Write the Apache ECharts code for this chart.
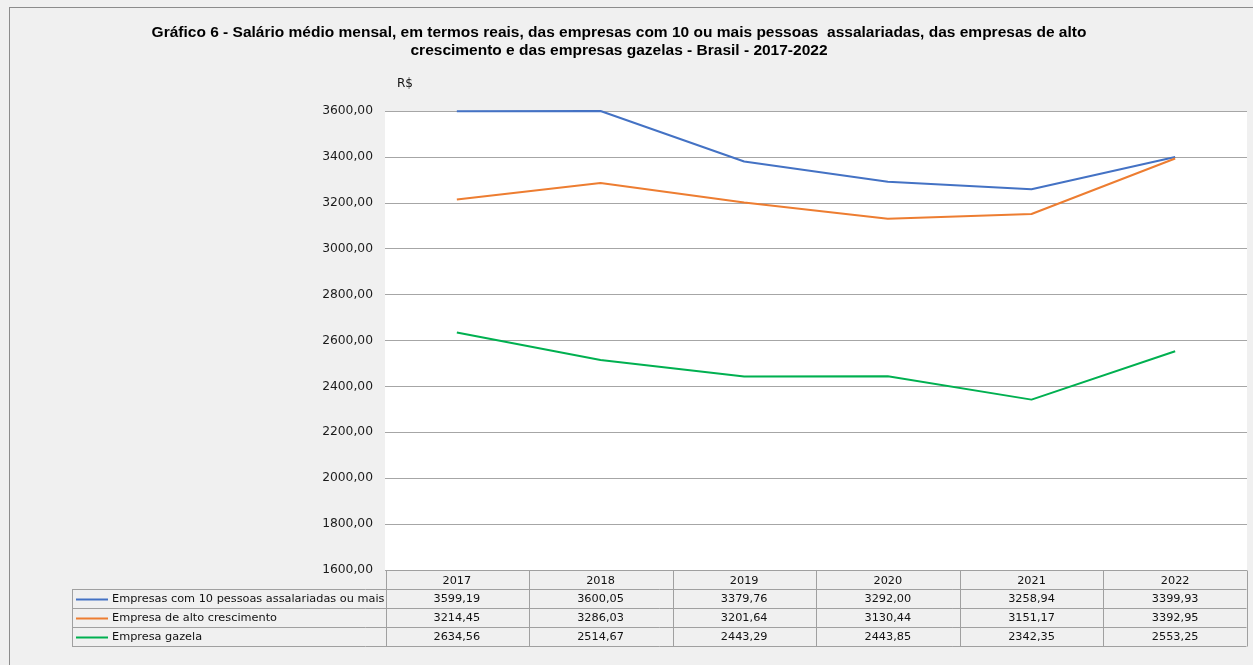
<!DOCTYPE html>
<html>
<head>
<meta charset="utf-8">
<script src="https://cdn.jsdelivr.net/npm/echarts@6/dist/echarts.min.js"></script>
<style>
  html, body { margin: 0; padding: 0; background: #f0f0f0; }
  #main { width: 1253px; height: 665px; }
</style>
</head>
<body>
<div id="main"></div>
<script>
  // dados do gráfico
  const anos = ['2017', '2018', '2019', '2020', '2021', '2022']
  const nomesSeries = [
    'Empresas com 10 pessoas assalariadas ou mais',
    'Empresa de alto crescimento',
    'Empresa gazela'
  ]
  const empresas10 = [3599.19, 3600.05, 3379.76, 3292.00, 3258.94, 3399.93]
  const altoCrescimento = [3214.45, 3286.03, 3201.64, 3130.44, 3151.17, 3392.95]
  const gazela = [2634.56, 2514.67, 2443.29, 2443.85, 2342.35, 2553.25]
  const cores = ['#4472c4', '#ed7d31', '#00b050']
  const yMin = 1600
  const yMax = 3600
  const yPasso = 200

  const valores = [empresas10, altoCrescimento, gazela]
  const fmt = v => v.toFixed(2).replace('.', ',')

  const chart = echarts.init(document.getElementById('main'))
  chart.setOption({
    backgroundColor: '#f0f0f0',
    animation: false,
    grid: {
      left: 385,
      right: 6,
      top: 111,
      bottom: 95,
      show: true,
      backgroundColor: '#ffffff',
      borderWidth: 0
    },
    xAxis: {
      type: 'category',
      data: anos,
      boundaryGap: true,
      axisLine: { show: false },
      axisTick: { show: false },
      axisLabel: { show: false }
    },
    yAxis: {
      type: 'value',
      min: yMin,
      max: yMax,
      interval: yPasso,
      axisLine: { show: false },
      axisTick: { show: false },
      axisLabel: {
        margin: 12,
        formatter: fmt,
        color: '#1a1a1a',
        fontFamily: 'DejaVu Sans',
        fontSize: 12.3
      },
      splitLine: {
        lineStyle: { color: '#a6a6a6', width: 1 }
      }
    },
    series: valores.map((arr, i) => ({
      name: nomesSeries[i],
      type: 'line',
      data: arr,
      symbol: 'none',
      lineStyle: { color: cores[i], width: 2 },
      itemStyle: { color: cores[i] }
    }))
  })

  // tabela de dados abaixo do gráfico
  const cinza = '#a0a0a0'
  const esq = 72
  const iniCol = 385.5
  const fimCol = 1246.5
  const linhasY = [570.5, 589.5, 608.5, 627.5, 646.5]
  const larg = (fimCol - iniCol) / anos.length
  const g = []

  const linha = (x1, y1, x2, y2, cor, w) => ({
    type: 'line',
    silent: true,
    shape: { x1: x1, y1: y1, x2: x2, y2: y2 },
    style: { stroke: cor || cinza, lineWidth: w || 1 }
  })
  const texto = (t, x, y, opts) => Object.assign({
    type: 'text',
    silent: true,
    x: x,
    y: y,
    style: Object.assign({
      text: t,
      fill: '#111111',
      font: '11.3px "DejaVu Sans"',
      textAlign: 'center',
      textVerticalAlign: 'middle'
    }, opts || {})
  })

  // bordas externas
  g.push(linha(9.5, 7, 9.5, 665, '#8c8c8c'))
  g.push(linha(9, 7.5, 1253, 7.5, '#8c8c8c'))

  // titulo
  g.push(texto('Gráfico 6 - Salário médio mensal, em termos reais, das empresas com 10 ou mais pessoas  assalariadas, das empresas de alto', 619, 33, {
    font: 'bold 15.5px "Liberation Sans"', fill: '#000000'
  }))
  g.push(texto('crescimento e das empresas gazelas - Brasil - 2017-2022', 619, 51, {
    font: 'bold 15.5px "Liberation Sans"', fill: '#000000'
  }))
  g.push(texto('R$', 397, 84, { textAlign: 'left', font: '12px "DejaVu Sans"', fill: '#111111' }))

  // grade da tabela
  g.push(linha(iniCol, linhasY[0], fimCol, linhasY[0]))
  for (let r = 1; r < linhasY.length; r++) {
    g.push(linha(esq, linhasY[r], fimCol, linhasY[r]))
  }
  g.push(linha(esq + 0.5, linhasY[1], esq + 0.5, linhasY[4]))
  for (let c = 0; c <= anos.length; c++) {
    const x = Math.round(iniCol + c * larg) + 0.5
    g.push(linha(x, linhasY[0], x, linhasY[4]))
  }

  // cabecalho com os anos
  anos.forEach((a, i) => {
    const cx = chart.convertToPixel({ xAxisIndex: 0 }, i)
    g.push(texto(a, cx, (linhasY[0] + linhasY[1]) / 2 + 1))
  })

  // linhas das series
  valores.forEach((arr, r) => {
    const cy = (linhasY[r + 1] + linhasY[r + 2]) / 2 + 0.5
    g.push(linha(76, cy, 108, cy, cores[r], 2))
    g.push(texto(nomesSeries[r], 112, cy, { textAlign: 'left' }))
    arr.forEach((v, i) => {
      const cx = chart.convertToPixel({ xAxisIndex: 0 }, i)
      g.push(texto(fmt(v), cx, cy))
    })
  })

  chart.setOption({ graphic: g })
</script>
</body>
</html>
